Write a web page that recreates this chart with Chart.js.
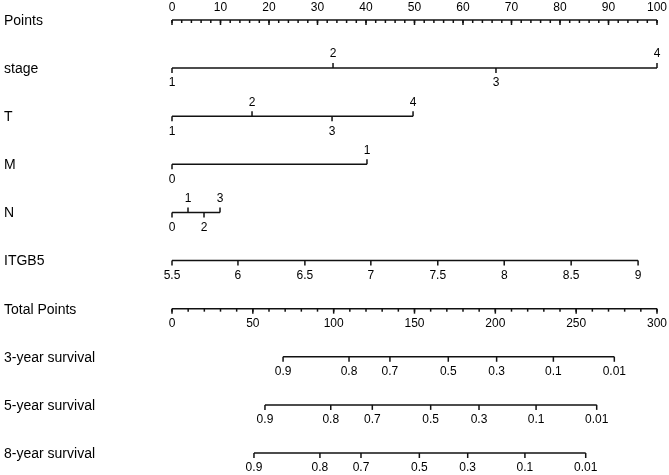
<!DOCTYPE html>
<html>
<head>
<meta charset="utf-8">
<title>Nomogram</title>
<script src="https://cdn.jsdelivr.net/npm/chart.js@4/dist/chart.umd.min.js"></script>
<style>
  html, body { margin: 0; padding: 0; background: #fff; }
  canvas { display: block; }
</style>
</head>
<body>
<canvas id="nomogram" width="669" height="475"></canvas>
<script>
// row names, top to bottom
const rowNames = ['Points', 'stage', 'T', 'M', 'N', 'ITGB5', 'Total Points',
                  '3-year survival', '5-year survival', '8-year survival'];

// points scale (0-100) and total points scale (0-300)
const pointLabels = [0, 10, 20, 30, 40, 50, 60, 70, 80, 90, 100];
const pointMinorStep = 2;
const totalLabels = [0, 50, 100, 150, 200, 250, 300];
const totalMinorStep = 10;

// predictor levels and the points they get
const stageLevels = ['1', '2', '3', '4'];
const stagePoints = [0, 33.2, 66.8, 100];
const tLevels = ['1', '2', '3', '4'];
const tPoints = [0, 16.5, 33, 49.7];
const mLevels = ['0', '1'];
const mPoints = [0, 40.2];
const nLevels = ['0', '1', '2', '3'];
const nPoints = [0, 3.3, 6.6, 9.9];
const itgb5Levels = ['5.5', '6', '6.5', '7', '7.5', '8', '8.5', '9'];
const itgb5Points = [0, 13.6, 27.4, 41.0, 54.8, 68.5, 82.3, 96.1];

// survival probabilities and the total points where they sit
const survLevels = ['0.9', '0.8', '0.7', '0.5', '0.3', '0.1', '0.01'];
const surv3Total = [68.7, 109.5, 134.8, 170.9, 200.8, 235.9, 273.6];
const surv5Total = [57.5, 98.2, 123.9, 160.0, 189.9, 225.2, 262.7];
const surv8Total = [50.7, 91.5, 116.9, 153.0, 182.9, 218.3, 255.9];

// rows: which scale, level labels, positions, how labels sit
const rows = [
  { axis: 'x', kind: 'top', labels: pointLabels.map(String), values: pointLabels, minor: pointMinorStep },
  { axis: 'x', kind: 'alt', labels: stageLevels, values: stagePoints },
  { axis: 'x', kind: 'alt', labels: tLevels, values: tPoints },
  { axis: 'x', kind: 'alt', labels: mLevels, values: mPoints },
  { axis: 'x', kind: 'alt', labels: nLevels, values: nPoints },
  { axis: 'x', kind: 'below', labels: itgb5Levels, values: itgb5Points },
  { axis: 'x2', kind: 'below', labels: totalLabels.map(String), values: totalLabels, minor: totalMinorStep },
  { axis: 'x2', kind: 'below', labels: survLevels, values: surv3Total },
  { axis: 'x2', kind: 'below', labels: survLevels, values: surv5Total },
  { axis: 'x2', kind: 'below', labels: survLevels, values: surv8Total }
];

const datasets = rows.map((r, i) => ({
  label: rowNames[i],
  xAxisID: r.axis,
  data: [{ x: Math.min(...r.values), y: i }, { x: Math.max(...r.values), y: i }],
  borderColor: '#111',
  borderWidth: 1.5,
  pointRadius: 0,
  fill: false,
  clip: false
}));

const labelFont = '14px Arial, "Liberation Sans", sans-serif';
const tickFont = '12px Arial, "Liberation Sans", sans-serif';

const nomoPlugin = {
  id: 'nomo',
  afterDatasetsDraw(chart) {
    const ctx = chart.ctx;
    const yScale = chart.scales.y;
    ctx.save();
    ctx.strokeStyle = '#111';
    ctx.fillStyle = '#000';
    ctx.lineWidth = 1.5;
    ctx.textBaseline = 'middle';

    rows.forEach((r, i) => {
      const sc = chart.scales[r.axis];
      const yp = yScale.getPixelForValue(i);

      // row name on the left
      ctx.font = labelFont;
      ctx.textAlign = 'left';
      ctx.fillText(rowNames[i], 4, yp + 1);

      ctx.font = tickFont;
      ctx.textAlign = 'center';

      // minor ticks
      if (r.minor) {
        const lo = r.values[0], hi = r.values[r.values.length - 1];
        for (let v = lo; v <= hi; v += r.minor) {
          const xp = sc.getPixelForValue(v);
          ctx.beginPath();
          ctx.moveTo(xp, yp);
          ctx.lineTo(xp, yp + 3);
          ctx.stroke();
        }
      }

      r.values.forEach((v, k) => {
        const xp = sc.getPixelForValue(v);
        const up = r.kind === 'alt' && k % 2 === 1;
        ctx.beginPath();
        ctx.moveTo(xp, yp);
        ctx.lineTo(xp, up ? yp - 5 : yp + 5);
        ctx.stroke();
        let ty;
        if (r.kind === 'top') ty = yp - 12;
        else if (up) ty = yp - 14;
        else ty = yp + 15;
        ctx.fillText(r.labels[k], xp, ty);
      });
    });
    ctx.restore();
  }
};

new Chart(document.getElementById('nomogram'), {
  type: 'line',
  data: { datasets: datasets },
  options: {
    responsive: false,
    animation: false,
    layout: { padding: { left: 172, right: 12, top: 20, bottom: 22 } },
    plugins: { legend: { display: false }, tooltip: { enabled: false } },
    scales: {
      x: { type: 'linear', min: 0, max: 100, display: false },
      x2: { type: 'linear', min: 0, max: 300, display: false },
      y: { type: 'linear', min: 0, max: 9, reverse: true, display: false }
    }
  },
  plugins: [nomoPlugin]
});
</script>
</body>
</html>
